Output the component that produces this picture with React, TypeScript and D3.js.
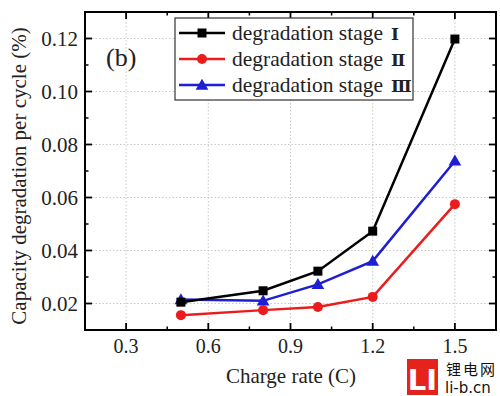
import React from "react";
import * as d3 from "d3";

const chargeRates = [0.5, 0.8, 1.0, 1.2, 1.5];
const stage1 = [0.0205, 0.0248, 0.0322, 0.0473, 0.1198];
const stage2 = [0.0156, 0.0175, 0.0187, 0.0225, 0.0575];
const stage3 = [0.0215, 0.0210, 0.0272, 0.0360, 0.0738];
const xTicks = [0.3, 0.6, 0.9, 1.2, 1.5];
const xMinor = [0.15, 0.45, 0.75, 1.05, 1.35, 1.65];
const yTicks = [0.02, 0.04, 0.06, 0.08, 0.1, 0.12];
const yMinor = [0.01, 0.03, 0.05, 0.07, 0.09, 0.11, 0.13];
const seriesNames = ["degradation stage", "degradation stage", "degradation stage"];
const seriesNumerals = ["Ⅰ", "Ⅱ", "Ⅲ"];
const seriesColors = ["#000000", "#ec1c1c", "#1e1ed2"];
const seriesShapes = ["square", "circle", "triangle"];

const W = 500, H = 396;
const left = 85, right = 496, top = 12, bottom = 330;

export default function App() {
  const x = d3.scaleLinear().domain([0.15, 1.65]).range([left, right]);
  const y = d3.scaleLinear().domain([0.01, 0.13]).range([bottom, top]);
  const all = [stage1, stage2, stage3];
  const line = d3.line<number>().x((_, i) => x(chargeRates[i])).y((v) => y(v));
  const font = "'Liberation Serif', 'Times New Roman', serif";

  const marker = (shape: string, cx: number, cy: number, color: string, key: string) => {
    if (shape === "square") {
      return <rect key={key} x={cx - 4.5} y={cy - 4.5} width={9} height={9} fill={color} />;
    }
    if (shape === "circle") {
      return <circle key={key} cx={cx} cy={cy} r={5} fill={color} />;
    }
    const p = d3.symbol(d3.symbolTriangle, 70)();
    return <path key={key} d={p as string} transform={`translate(${cx},${cy + 1})`} fill={color} />;
  };

  return (
    <svg width={W} height={H} style={{ position: "absolute", left: 0, top: 0, background: "#fff" }}>
      <rect x={0} y={0} width={W} height={H} fill="#fff" />
      {/* grid */}
      {xTicks.map((t) => (
        <line key={"gx" + t} x1={x(t)} x2={x(t)} y1={top} y2={bottom} stroke="#c8c8c8" strokeWidth={1} strokeDasharray="1.5,2" />
      ))}
      {yTicks.map((t) => (
        <line key={"gy" + t} x1={left} x2={right} y1={y(t)} y2={y(t)} stroke="#c8c8c8" strokeWidth={1} strokeDasharray="1.5,2" />
      ))}
      {/* ticks */}
      {xTicks.map((t) => (
        <g key={"tx" + t}>
          <line x1={x(t)} x2={x(t)} y1={bottom} y2={bottom - 7} stroke="#000" strokeWidth={1.8} />
          <line x1={x(t)} x2={x(t)} y1={top} y2={top + 7} stroke="#000" strokeWidth={1.8} />
          <text x={x(t)} y={353} textAnchor="middle" fontFamily={font} fontSize={20} fill="#222">
            {d3.format(".1f")(t)}
          </text>
        </g>
      ))}
      {xMinor.map((t) => (
        <g key={"mx" + t}>
          <line x1={x(t)} x2={x(t)} y1={bottom} y2={bottom - 3.5} stroke="#000" strokeWidth={1.5} />
          <line x1={x(t)} x2={x(t)} y1={top} y2={top + 3.5} stroke="#000" strokeWidth={1.5} />
        </g>
      ))}
      {yTicks.map((t) => (
        <g key={"ty" + t}>
          <line x1={left} x2={left + 7} y1={y(t)} y2={y(t)} stroke="#000" strokeWidth={1.8} />
          <line x1={right} x2={right - 7} y1={y(t)} y2={y(t)} stroke="#000" strokeWidth={1.8} />
          <text x={78} y={y(t) + 7} textAnchor="end" fontFamily={font} fontSize={21} fill="#222">
            {d3.format(".2f")(t)}
          </text>
        </g>
      ))}
      {yMinor.map((t) => (
        <g key={"my" + t}>
          <line x1={left} x2={left + 3.5} y1={y(t)} y2={y(t)} stroke="#000" strokeWidth={1.5} />
          <line x1={right} x2={right - 3.5} y1={y(t)} y2={y(t)} stroke="#000" strokeWidth={1.5} />
        </g>
      ))}
      {/* frame */}
      <rect x={left} y={top} width={right - left} height={bottom - top} fill="none" stroke="#000" strokeWidth={2} />
      {/* series */}
      {[1, 2, 0].map((si) => (
        <g key={"s" + si}>
          <path d={line(all[si]) as string} fill="none" stroke={seriesColors[si]} strokeWidth={2.5} />
          {all[si].map((v, i) => marker(seriesShapes[si], x(chargeRates[i]), y(v), seriesColors[si], `m${si}-${i}`))}
        </g>
      ))}
      {/* label (b) */}
      <text x={106} y={66} fontFamily={font} fontSize={26} fill="#222">(b)</text>
      {/* legend */}
      <rect x={175} y={18} width={238} height={82} fill="#fff" stroke="#333" strokeWidth={1.2} />
      {seriesNames.map((n, i) => {
        const ly = 33 + i * 26;
        return (
          <g key={"lg" + i}>
            <line x1={179} x2={225} y1={ly} y2={ly} stroke={seriesColors[i]} strokeWidth={2.5} />
            {marker(seriesShapes[i], 202, ly, seriesColors[i], "lm" + i)}
            <text x={232} y={ly + 7} fontFamily={font} fontSize={21.5} fill="#222">
              {n}
              <tspan dx={8} fontFamily="'DejaVu Serif', serif" fontSize={17} fontWeight="bold">{seriesNumerals[i]}</tspan>
            </text>
          </g>
        );
      })}
      {/* axis titles */}
      <text x={291} y={383} textAnchor="middle" fontFamily={font} fontSize={21} fill="#222">Charge rate (C)</text>
      <text transform={`translate(26,176) rotate(-90)`} textAnchor="middle" fontFamily={font} fontSize={21} fill="#222">
        Capacity degradation per cycle (%)
      </text>
      {/* watermark */}
      <rect x={407} y={359} width={31} height={36} fill="#e5231b" />
      <text x={422.5} y={390} textAnchor="middle" fontFamily="'DejaVu Sans', sans-serif" fontWeight="bold" fontSize={29} fill="#fff">LI</text>
      <text x={446} y={375} fontFamily="'Noto Sans CJK SC', sans-serif" fontSize={15} letterSpacing={2} fill="#111">锂电网</text>
      <text x={445} y={393} fontFamily="'DejaVu Sans', sans-serif" fontSize={15} fill="#111">li-b.cn</text>
    </svg>
  );
}
